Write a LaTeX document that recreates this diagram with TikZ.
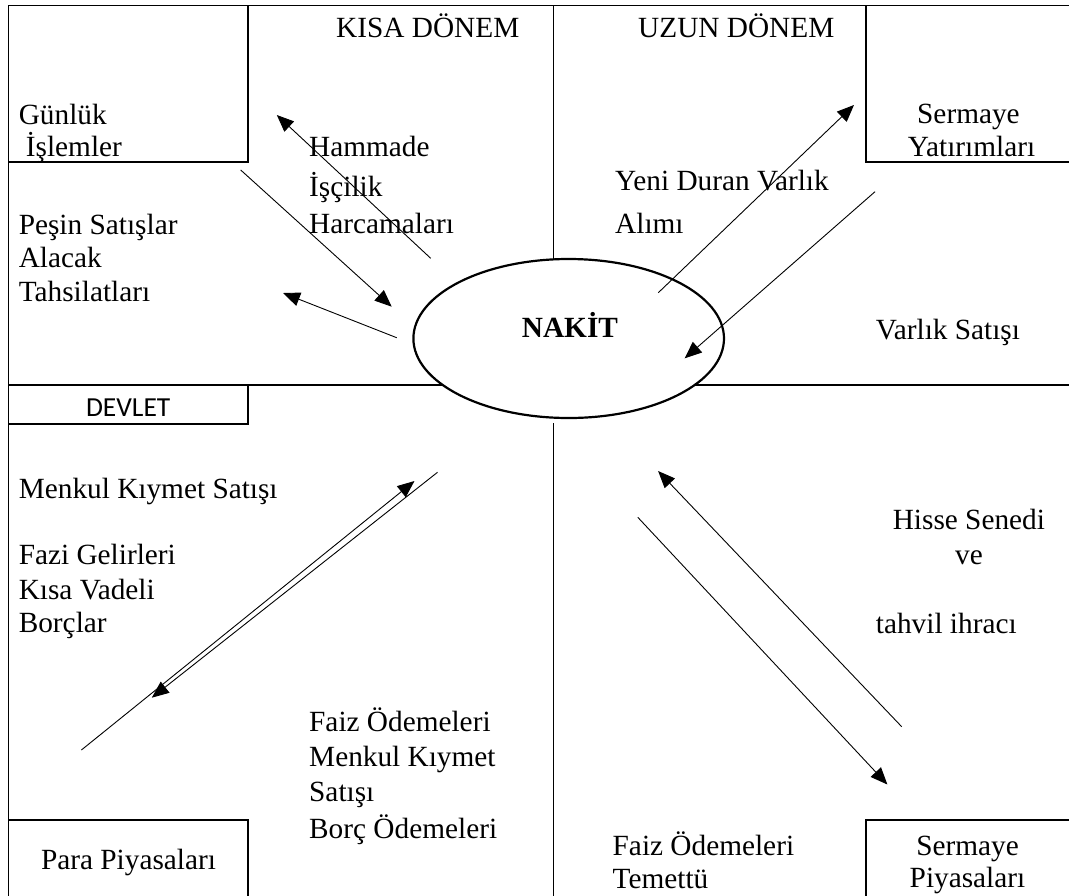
\documentclass[tikz,border=0pt]{standalone}
\usepackage{fontspec}
\setmainfont{Liberation Serif}
\newfontfamily\carlito{Carlito}
\usetikzlibrary{arrows.meta,shapes.geometric}
\tikzset{
  frame/.style={line width=1.8pt, line cap=rect, line join=miter},
  arr/.style={line width=0.9pt, -{Triangle[length=17pt,width=14pt]}},
  lbl/.style={inner sep=0pt, anchor=base west, font=\fontsize{29.3}{33}\selectfont},
  clbl/.style={lbl, anchor=base},
  oval/.style={ellipse, draw, line width=2.2pt, fill=white, minimum width=310.6pt, minimum height=159pt, inner sep=0pt},
}
\begin{document}
\begin{tikzpicture}[x=1pt,y=-1pt]
\useasboundingbox (0,0) rectangle (1069,895);
% frame lines
\draw[frame] (1069,5.5) -- (8.5,5.5) -- (8.5,895);
\draw[frame] (248,5.5) -- (248,162) -- (8.5,162);
\draw[frame] (865.6,5.5) -- (865.6,162) -- (1069,162);
\draw[frame] (553.5,5.5) -- (553.5,300);
\draw[frame] (8.5,385) -- (1069,385);
\draw[frame] (8.5,424.3) -- (248,424.3) -- (248,385);
\draw[frame] (553.5,424.3) -- (553.5,895);
\draw[frame] (8.5,820) -- (248,820) -- (248,895);
\draw[frame] (1069,820) -- (865.6,820) -- (865.6,895);
% central ellipse
\node[oval] (nakit) at (568.7,338.5) {};
\node[lbl, font=\fontsize{29.3}{33}\selectfont\bfseries] (nakitt) at (521.7,337.7) {NAKİT};
% arrow end points
\coordinate (a1s) at (430.7,258.3); \coordinate (a1e) at (276.8,115);
\coordinate (a2s) at (240.7,170);   \coordinate (a2e) at (391.7,306.7);
\coordinate (a3s) at (396.7,337.7); \coordinate (a3e) at (283,293);
\coordinate (a4s) at (658.3,292.7); \coordinate (a4e) at (854,105);
\coordinate (a5s) at (875,191.7);   \coordinate (a5e) at (684.7,358.3);
\coordinate (a6s) at (81.4,750);    \coordinate (a6e) at (414.5,481);
\coordinate (a7s) at (437.5,472.3); \coordinate (a7e) at (151.8,697.7);
\coordinate (a8s) at (901.7,726.7); \coordinate (a8e) at (658.1,471);
\coordinate (a9s) at (637.8,517.3); \coordinate (a9e) at (887.4,784.5);
\draw[arr] (a1s) -- (a1e);
\draw[arr] (a2s) -- (a2e);
\draw[arr] (a3s) -- (a3e);
\draw[arr] (a4s) -- (a4e);
\draw[arr] (a5s) -- (a5e);
\draw[arr] (a6s) -- (a6e);
\draw[arr] (a7s) -- (a7e);
\draw[arr] (a8s) -- (a8e);
\draw[arr] (a9s) -- (a9e);
% texts
\node[lbl] (kisa) at (336,37.7) {KISA DÖNEM};
\node[lbl] (uzun) at (638,37.7) {UZUN DÖNEM};
\node[lbl] (gun1) at (18.6,124) {Günlük};
\node[lbl] (gun2) at (25.7,156) {İşlemler};
\node[lbl] (ham1) at (309,156) {Hammade};
\node[lbl] (ham2) at (309,196.5) {İşçilik};
\node[lbl] (ham3) at (309,233) {Harcamaları};
\node[lbl] (sy1) at (917,123) {Sermaye};
\node[lbl] (sy2) at (907.7,156) {Yatırımları};
\node[lbl] (ydv1) at (615,190.5) {Yeni Duran Varlık};
\node[lbl] (ydv2) at (615,233) {Alımı};
\node[lbl] (ps1) at (18.6,234) {Peşin Satışlar};
\node[lbl] (ps2) at (18.6,267) {Alacak};
\node[lbl] (ps3) at (18.6,301) {Tahsilatları};
\node[lbl] (vs) at (875.7,339.5) {Varlık Satışı};
\node[inner sep=0pt, anchor=base, font=\carlito\fontsize{27.5}{30}\selectfont] (devlet) at (128.2,416) {DEVLET};
\node[lbl] (mks) at (18.6,498) {Menkul Kıymet Satışı};
\node[lbl] (fg1) at (18.6,564.5) {Fazi Gelirleri};
\node[lbl] (fg2) at (18.6,599.5) {Kısa Vadeli};
\node[lbl] (fg3) at (18.6,632.5) {Borçlar};
\node[lbl] (hs1) at (892.6,529) {Hisse Senedi};
\node[lbl] (hs2) at (955,564) {ve};
\node[lbl] (hs3) at (875.7,633) {tahvil ihracı};
\node[lbl] (fo1) at (309,731) {Faiz Ödemeleri};
\node[lbl] (fo2) at (309,766.5) {Menkul Kıymet};
\node[lbl] (fo3) at (309,801) {Satışı};
\node[lbl] (fo4) at (309,838) {Borç Ödemeleri};
\node[clbl] (para) at (128.5,869) {Para Piyasaları};
\node[lbl] (ft1) at (612.5,855) {Faiz Ödemeleri};
\node[lbl] (ft2) at (612.5,888) {Temettü};
\node[clbl] (sp1) at (967.6,855) {Sermaye};
\node[clbl] (sp2) at (967.5,887) {Piyasaları};
\end{tikzpicture}
\end{document}
